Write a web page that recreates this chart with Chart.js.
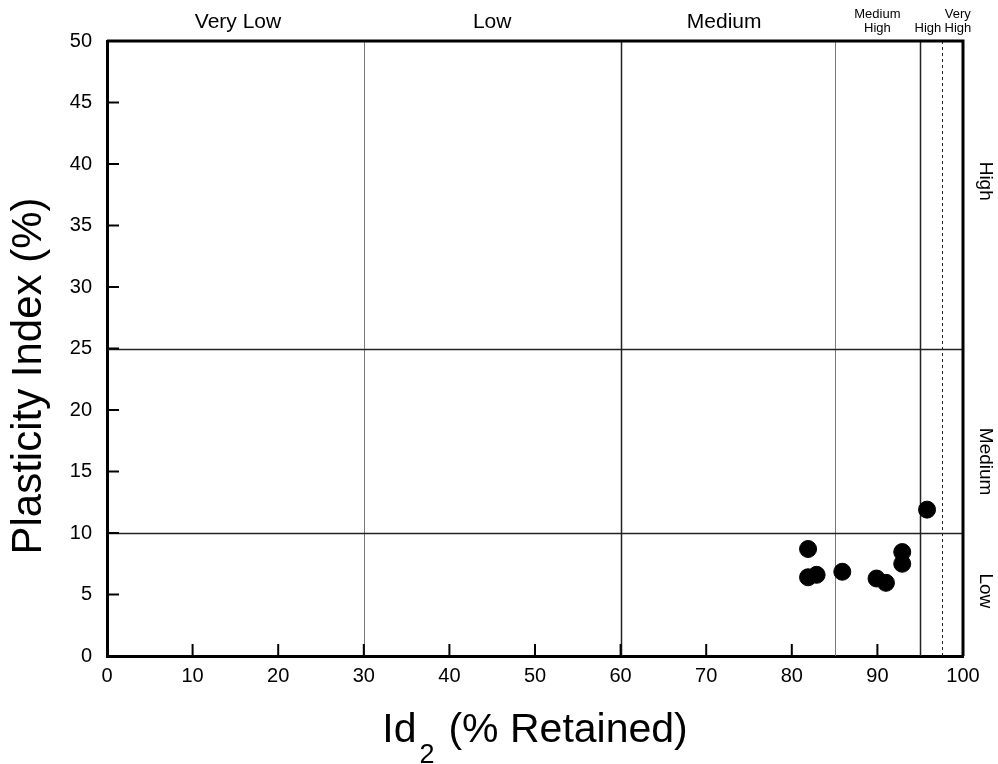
<!DOCTYPE html>
<html lang="en">
<head>
    <meta charset="UTF-8">
    <title>Plasticity Index vs Id2</title>
    <script src="https://cdn.jsdelivr.net/npm/chart.js"></script>
    <style>
        body {
            margin: 0;
            padding: 0;
            background: white;
        }
        #wrap {
            width: 998px;
            height: 764px;
        }
    </style>
</head>
<body>
    <div id="wrap"><canvas id="plotChart" width="998" height="764"></canvas></div>

    <script>
        // measured samples
        const id2Values = [95.8, 81.9, 81.9, 82.9, 85.9, 89.9, 91.0, 92.9, 92.9];
        const piValues  = [11.9, 8.7, 6.4, 6.6, 6.85, 6.3, 5.95, 8.45, 7.5];

        // durability class boundaries on the x axis
        const xBounds = [30, 60, 85, 95, 97.5];
        const xBoundStyle = ['thin', 'dark', 'thin', 'dark', 'dotted'];
        const xClassLabels = [['Very Low'], ['Low'], ['Medium'], ['Medium', 'High'], ['High'], ['Very', 'High']];
        const xClassCenters = [15.3, 45, 72.1, 90, 95.9, 99.4];

        // plasticity class boundaries on the y axis
        const yBounds = [10, 25];
        const yClassLabels = ['Low', 'Medium', 'High'];
        const yClassCenters = [5.3, 15.8, 38.6];

        const font = 'Liberation Sans, Arial, sans-serif';

        const zonePlugin = {
            id: 'zones',
            beforeDatasetsDraw(chart) {
                const ctx = chart.ctx;
                const area = chart.chartArea;
                const x = chart.scales.x, y = chart.scales.y;
                ctx.save();
                xBounds.forEach((v, i) => {
                    const px = Math.round(x.getPixelForValue(v)) + 0.5;
                    const st = xBoundStyle[i];
                    ctx.beginPath();
                    ctx.strokeStyle = st === 'thin' ? '#777' : '#222';
                    ctx.lineWidth = st === 'dark' ? 1.5 : 1;
                    ctx.setLineDash(st === 'dotted' ? [3, 3] : []);
                    ctx.moveTo(px, area.top);
                    ctx.lineTo(px, area.bottom);
                    ctx.stroke();
                });
                ctx.setLineDash([]);
                yBounds.forEach(v => {
                    const py = Math.round(y.getPixelForValue(v)) + 0.5;
                    ctx.beginPath();
                    ctx.strokeStyle = '#222';
                    ctx.lineWidth = 1.5;
                    ctx.moveTo(area.left, py);
                    ctx.lineTo(area.right, py);
                    ctx.stroke();
                });
                ctx.restore();
            },
            afterDraw(chart) {
                const ctx = chart.ctx;
                const area = chart.chartArea;
                const x = chart.scales.x, y = chart.scales.y;
                ctx.save();
                ctx.fillStyle = '#000';
                ctx.strokeStyle = '#000';

                // frame: thick top and right border
                ctx.lineWidth = 3;
                ctx.beginPath();
                ctx.moveTo(area.left, area.top);
                ctx.lineTo(area.right, area.top);
                ctx.lineTo(area.right, area.bottom);
                ctx.stroke();

                // inward ticks
                ctx.lineWidth = 2;
                x.ticks.forEach(t => {
                    const px = x.getPixelForValue(t.value);
                    ctx.beginPath();
                    ctx.moveTo(px, area.bottom);
                    ctx.lineTo(px, area.bottom - 12);
                    ctx.stroke();
                });
                y.ticks.forEach(t => {
                    const py = y.getPixelForValue(t.value);
                    ctx.beginPath();
                    ctx.moveTo(area.left, py);
                    ctx.lineTo(area.left + 12, py);
                    ctx.stroke();
                });

                // top class labels
                ctx.textAlign = 'center';
                ctx.textBaseline = 'alphabetic';
                xClassLabels.forEach((lines, i) => {
                    const px = x.getPixelForValue(xClassCenters[i]);
                    if (i < 3) {
                        ctx.font = '21px ' + font;
                        ctx.fillText(lines[0], px, 28);
                    } else {
                        ctx.font = '13px ' + font;
                        if (lines.length === 2) {
                            ctx.fillText(lines[0], px, 18);
                            ctx.fillText(lines[1], px, 32);
                        } else {
                            ctx.fillText(lines[0], px, 32);
                        }
                    }
                });

                // right class labels, rotated
                ctx.font = '19px ' + font;
                ctx.textBaseline = 'middle';
                yClassLabels.forEach((lab, i) => {
                    const py = y.getPixelForValue(yClassCenters[i]);
                    ctx.save();
                    ctx.translate(985, py);
                    ctx.rotate(Math.PI / 2);
                    ctx.fillText(lab, 0, 0);
                    ctx.restore();
                });

                // y title
                ctx.save();
                ctx.font = '42px ' + font;
                ctx.textBaseline = 'alphabetic';
                ctx.translate(41, 376);
                ctx.rotate(-Math.PI / 2);
                ctx.fillText('Plasticity Index (%)', 0, 0);
                ctx.restore();

                // x title with subscript
                const big = '41px ' + font;
                const small = '27px ' + font;
                ctx.font = big;
                const w1 = ctx.measureText('Id').width;
                const w3 = ctx.measureText('(% Retained)').width;
                ctx.font = small;
                const w2 = ctx.measureText('2').width;
                const total = w1 + 3 + w2 + 14 + w3;
                const sx = (area.left + area.right) / 2 - total / 2;
                ctx.textAlign = 'left';
                ctx.textBaseline = 'alphabetic';
                ctx.font = big;
                ctx.fillText('Id', sx, 742);
                ctx.font = small;
                ctx.fillText('2', sx + w1 + 3, 763);
                ctx.font = big;
                ctx.fillText('(% Retained)', sx + w1 + 3 + w2 + 14, 742);
                ctx.restore();
            }
        };

        new Chart(document.getElementById('plotChart'), {
            type: 'scatter',
            data: {
                datasets: [{
                    label: 'Samples',
                    data: id2Values.map((v, i) => ({ x: v, y: piValues[i] })),
                    backgroundColor: '#000',
                    borderColor: '#000',
                    pointRadius: 8.5,
                    pointHoverRadius: 8.5
                }]
            },
            options: {
                responsive: false,
                animation: false,
                layout: { padding: { top: 41, right: 35, left: 0, bottom: 0 } },
                plugins: {
                    legend: { display: false },
                    tooltip: { enabled: false }
                },
                scales: {
                    x: {
                        min: 0,
                        max: 100,
                        ticks: { stepSize: 10, color: '#000', font: { size: 20, family: font }, padding: 8, maxRotation: 0 },
                        grid: { display: false, drawTicks: false },
                        border: { display: true, color: '#000', width: 3 },
                        afterFit(scale) { scale.height = 108; }
                    },
                    y: {
                        min: 0,
                        max: 50,
                        ticks: { stepSize: 5, color: '#000', font: { size: 20, family: font }, padding: 15 },
                        grid: { display: false, drawTicks: false },
                        border: { display: true, color: '#000', width: 3 },
                        afterFit(scale) { scale.width = 107; }
                    }
                }
            },
            plugins: [zonePlugin]
        });
    </script>
</body>
</html>
